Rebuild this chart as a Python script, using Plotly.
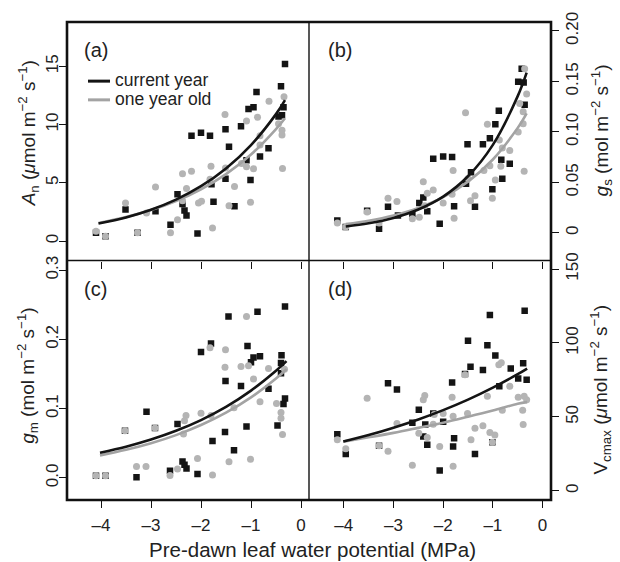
import plotly.graph_objects as go

# ---------------- data ----------------
# Panel (a): A_n
a_cur_x = [-0.32, -0.40, -0.89, -0.95, -1.05, -0.35, -0.45, -0.38, -1.20, -1.51, -2.19, -2.00, -1.82,
           -1.44, -0.65, -0.82, -1.09, -1.01, -1.51, -1.79, -2.47, -2.37, -2.33, -2.29, -1.75, -1.33,
           -2.91, -3.51, -2.61, -2.07, -4.10, -3.27, -3.91]
a_cur_y = [15.2, 13.3, 12.8, 11.5, 11.35, 11.5, 10.7, 10.8, 9.86, 9.6, 9.04, 9.3, 9.04,
           8.1, 7.97, 7.26, 6.93, 5.24, 5.35, 4.87, 4.03, 3.18, 2.62, 2.2, 3.38, 2.99,
           2.57, 2.7, 1.41, 0.65, 0.71, 0.71, 0.42]
a_old_x = [-0.34, -0.64, -1.52, -1.09, -0.87, -0.45, -0.38, -0.38, -0.82, -0.82, -1.19, -1.09, -0.95,
           -0.37, -1.51, -1.80, -2.19, -2.37, -1.82, -1.33, -2.29, -2.91, -2.37, -2.05, -1.99, -1.44,
           -1.01, -3.51, -3.09, -2.47, -2.61, -1.77, -4.10, -3.91, -3.27]
a_old_y = [12.4, 12.0, 10.87, 10.3, 10.64, 10.08, 9.52, 9.1, 9.04, 8.25, 6.65, 6.37, 6.2,
           6.22, 6.28, 6.42, 6.0, 5.78, 5.3, 4.68, 4.51, 4.65, 3.46, 3.27, 3.41, 3.04,
           3.33, 3.27, 2.42, 1.83, 0.71, 1.13, 0.85, 0.42, 0.71]
a_fit_x = [-4.05, -3.5, -3.0, -2.5, -2.0, -1.5, -1.0, -0.5, -0.32]
a_fit_cur = [1.5, 2.03, 2.69, 3.56, 4.71, 6.23, 8.24, 10.9, 12.1]
a_fit_old = [1.55, 2.06, 2.66, 3.44, 4.45, 5.75, 7.43, 9.62, 10.55]

# Panel (b): g_s
b_cur_x = [-0.42, -0.49, -0.38, -0.36, -0.88, -0.95, -1.06, -1.20, -1.51, -2.20, -2.00, -1.82, -0.83,
           -0.66, -1.44, -0.81, -1.54, -1.01, -3.11, -2.40, -2.48, -2.32, -2.62, -2.91, -1.78, -1.36,
           -3.53, -2.07, -3.29, -4.13, -3.96]
b_cur_y = [0.1625, 0.1496, 0.149, 0.127, 0.121, 0.1076, 0.0937, 0.0878, 0.0878, 0.0735, 0.0757, 0.0751, 0.0725,
           0.0686, 0.0601, 0.0536, 0.0488, 0.0432, 0.026, 0.0351, 0.0296, 0.0215, 0.0188, 0.0172, 0.0263, 0.026,
           0.022, 0.0091, 0.0042, 0.0123, 0.0058]
b_old_x = [-0.36, -0.32, -0.46, -0.39, -0.39, -0.49, -1.55, -1.11, -0.87, -0.81, -0.66, -1.06, -1.18,
           -0.84, -0.37, -1.80, -0.95, -1.50, -2.40, -2.20, -2.32, -1.36, -1.45, -1.01, -1.82, -3.11,
           -2.93, -2.00, -2.37, -3.53, -2.48, -2.62, -1.78, -3.29, -4.13, -3.96]
b_old_y = [0.1625, 0.1375, 0.128, 0.120, 0.108, 0.100, 0.119, 0.1076, 0.092, 0.084, 0.0816, 0.0666, 0.0618,
           0.066, 0.0611, 0.0618, 0.0523, 0.054, 0.0507, 0.0425, 0.0393, 0.0367, 0.0318, 0.0344, 0.0383, 0.0344,
           0.0312, 0.0296, 0.027, 0.0208, 0.0156, 0.014, 0.0146, 0.0098, 0.0098, 0.0058]
b_fit_x = [-3.96, -3.5, -3.0, -2.5, -2.0, -1.5, -1.0, -0.5, -0.32]
b_fit_cur = [0.0064, 0.0096, 0.0149, 0.0232, 0.036, 0.0561, 0.0872, 0.1354, 0.1587]
b_fit_old = [0.0088, 0.0121, 0.0173, 0.0248, 0.0355, 0.0508, 0.0727, 0.104, 0.1184]

# Panel (c): g_m
c_cur_x = [-0.32, -1.45, -0.87, -1.80, -2.00, -1.07, -0.95, -0.82, -1.00, -0.39, -0.40, -0.40, -1.51,
           -1.20, -0.65, -0.32, -0.35, -3.09, -2.47, -0.47, -1.09, -1.52, -1.77, -1.34, -2.37, -2.33,
           -2.29, -2.62, -2.07, -3.29, -4.10, -3.91, -3.52, -2.92]
c_cur_y = [0.2475, 0.2333, 0.240, 0.1943, 0.182, 0.1906, 0.174, 0.1758, 0.1669, 0.1772, 0.1659, 0.1512, 0.1398,
           0.1327, 0.1289, 0.1147, 0.1067, 0.0957, 0.0777, 0.0758, 0.0744, 0.0663, 0.0531, 0.0398, 0.0236, 0.0189,
           0.0137, 0.0104, 0.0057, 0.0009, 0.003, 0.003, 0.068, 0.072]
c_old_x = [-1.09, -1.82, -1.51, -1.52, -1.20, -1.05, -0.65, -0.33, -0.95, -0.82, -0.49, -0.40, -0.40,
           -0.37, -1.34, -1.80, -2.00, -2.30, -2.33, -2.35, -3.52, -2.92, -2.07, -1.44, -1.01, -2.47,
           -3.29, -3.10, -2.62, -1.77, -4.10, -3.91]
c_old_y = [0.2333, 0.188, 0.185, 0.160, 0.161, 0.162, 0.158, 0.157, 0.143, 0.110, 0.1076, 0.0943, 0.0862,
           0.0626, 0.1014, 0.090, 0.0933, 0.090, 0.0825, 0.0635, 0.068, 0.072, 0.0279, 0.0232, 0.027, 0.0128,
           0.0165, 0.0165, 0.0033, 0.0043, 0.003, 0.003]
c_fit_x = [-4.02, -3.5, -3.0, -2.5, -2.0, -1.5, -1.0, -0.5, -0.29]
c_fit_cur = [0.0364, 0.0451, 0.0554, 0.068, 0.0835, 0.1025, 0.126, 0.1547, 0.1686]
c_fit_old = [0.0325, 0.0405, 0.050, 0.0618, 0.0763, 0.0942, 0.1163, 0.1436, 0.157]

# Panel (d): V_cmax
d_cur_x = [-0.36, -1.06, -1.50, -1.11, -0.95, -0.39, -1.45, -1.20, -0.64, -0.49, -0.32, -0.87, -3.11,
           -2.93, -1.82, -2.49, -2.20, -2.62, -2.36, -2.00, -2.40, -2.32, -1.78, -1.80, -1.36, -2.07,
           -4.13, -3.96, -3.29, -1.01, -1.56]
d_cur_y = [121.8, 118.9, 101.6, 98.5, 91.6, 86.3, 84.0, 81.8, 82.7, 76.0, 75.1, 70.7, 72.7,
           68.5, 73.3, 54.9, 52.3, 46.0, 44.9, 46.7, 36.7, 31.1, 35.6, 30.0, 24.9, 13.8,
           38.3, 24.9, 30.5, 32.9, 79.0]
d_old_x = [-3.53, -2.93, -3.11, -4.13, -3.96, -2.62, -2.37, -2.40, -2.49, -2.32, -2.18, -2.00, -2.20,
           -2.07, -1.80, -1.82, -1.80, -1.51, -1.56, -1.44, -1.36, -1.20, -1.11, -0.83, -0.88, -0.66,
           -0.81, -1.06, -0.96, -1.01, -0.49, -0.32, -0.40, -0.39, -0.37, -3.29]
d_old_y = [62.7, 45.6, 26.7, 34.5, 28.5, 17.3, 64.5, 61.6, 38.9, 36.0, 51.6, 52.3, 45.1,
           30.0, 16.7, 63.3, 50.5, 52.3, 78.5, 34.5, 42.3, 44.0, 64.0, 86.7, 85.3, 70.7,
           54.5, 39.4, 37.8, 32.9, 63.3, 61.6, 54.5, 44.9, 64.0, 30.5]
d_fit_x = [-4.01, -3.5, -3.0, -2.5, -2.0, -1.5, -1.0, -0.5, -0.31]
d_fit_cur = [33.3, 37.7, 42.7, 48.3, 54.6, 61.7, 69.8, 78.9, 82.7]
d_fit_old = [33.3, 36.2, 39.2, 42.6, 46.1, 50.1, 54.3, 58.9, 60.0]

x_ticks = [-4, -3, -2, -1, 0]
x_ticklabels = ["\u20134", "\u20133", "\u20132", "\u20131", "0"]
a_ticks, a_labels = [0, 5, 10, 15], ["0", "5", "10", "15"]
b_ticks, b_labels = [0, 0.05, 0.10, 0.15, 0.20], ["0", "0.05", "0.10", "0.15", "0.20"]
c_ticks, c_labels = [0, 0.1, 0.2, 0.3], ["0.0", "0.1", "0.2", "0.3"]
d_ticks, d_labels = [0, 50, 100, 150], ["0", "50", "100", "150"]

series_names = ["current year", "one year old"]
panel_labels = ["(a)", "(b)", "(c)", "(d)"]

# ---------------- styling / layout ----------------
W, H = 620, 562
L, R, T, B = 67, 551, 15, 500
MIDX, MIDY = 309, 257
FONT = "Liberation Sans, Arial, Helvetica, sans-serif"
BLACK = "#141414"
GREY_M = "#b4b4b4"
GREY_L = "#a3a3a3"


def px(x):
    return (x - L) / (R - L)


def py(y):
    return (B - y) / (B - T)


fig = go.Figure()

panels = [
    ("x", "y", a_cur_x, a_cur_y, a_old_x, a_old_y, a_fit_x, a_fit_cur, a_fit_old),
    ("x2", "y2", b_cur_x, b_cur_y, b_old_x, b_old_y, b_fit_x, b_fit_cur, b_fit_old),
    ("x3", "y3", c_cur_x, c_cur_y, c_old_x, c_old_y, c_fit_x, c_fit_cur, c_fit_old),
    ("x4", "y4", d_cur_x, d_cur_y, d_old_x, d_old_y, d_fit_x, d_fit_cur, d_fit_old),
]
for xa, ya, cx, cy, ox, oy, fx, fc, fo in panels:
    fig.add_trace(go.Scatter(x=cx, y=cy, mode="markers", xaxis=xa, yaxis=ya, showlegend=False,
                             marker=dict(symbol="square", size=6.5, color=BLACK, line=dict(width=0)),
                             name=series_names[0]))
    fig.add_trace(go.Scatter(x=ox, y=oy, mode="markers", xaxis=xa, yaxis=ya, showlegend=False,
                             marker=dict(symbol="circle", size=7, color=GREY_M, line=dict(width=0)),
                             name=series_names[1]))
    fig.add_trace(go.Scatter(x=fx, y=fo, mode="lines", xaxis=xa, yaxis=ya, showlegend=False,
                             line=dict(color=GREY_L, width=2.6, shape="spline"), hoverinfo="skip"))
    fig.add_trace(go.Scatter(x=fx, y=fc, mode="lines", xaxis=xa, yaxis=ya, showlegend=False,
                             line=dict(color=BLACK, width=2.6, shape="spline"), hoverinfo="skip"))

# empty traces so the label-only overlay axes are drawn
for xa, ya in [("x", "y5"), ("x2", "y6"), ("x3", "y7"), ("x4", "y8")]:
    fig.add_trace(go.Scatter(x=[], y=[], mode="markers", xaxis=xa, yaxis=ya, showlegend=False,
                             hoverinfo="skip"))

xl = [px(L), px(MIDX)]
xr = [px(MIDX), px(R)]
yt = [py(MIDY), py(T)]
yb = [py(B), py(MIDY)]

tickfont = dict(family=FONT, size=17, color="#222222")
common_x = dict(tickvals=x_ticks, ticktext=x_ticklabels, ticks="outside", ticklen=7, tickwidth=1.3,
                tickcolor="#111111", showgrid=False, zeroline=False, showline=False, tickfont=tickfont,
                ticklabelstandoff=3)
common_y = dict(ticks="outside", ticklen=7, tickwidth=1.3, tickcolor="#111111", showgrid=False,
                zeroline=False, showline=False, showticklabels=False)
label_y = dict(ticks="outside", ticklen=7, tickwidth=1, tickcolor="rgba(0,0,0,0)", showgrid=False,
               zeroline=False, showline=False, tickfont=tickfont, tickangle=-90, anchor="free")

rng_a, rng_b, rng_c, rng_d = [-1.67, 18.81], [-0.0273, 0.2088], [-0.032, 0.3141], [-6.2, 155.8]

fig.update_layout(
    width=W, height=H,
    margin=dict(l=L, r=W - R, t=T, b=H - B),
    paper_bgcolor="white", plot_bgcolor="white",
    font=dict(family=FONT, color="#222222"),
    showlegend=False,
    xaxis=dict(domain=xl, range=[-4.68, 0.16], anchor="y", showticklabels=False, **common_x),
    yaxis=dict(domain=yt, range=rng_a, anchor="x", side="left", tickvals=a_ticks, **common_y),
    xaxis2=dict(domain=xr, range=[-4.70, 0.17], anchor="y2", showticklabels=False, **common_x),
    yaxis2=dict(domain=yt, range=rng_b, anchor="x2", side="right", tickvals=b_ticks, **common_y),
    xaxis3=dict(domain=xl, range=[-4.68, 0.16], anchor="y3", **common_x),
    yaxis3=dict(domain=yb, range=rng_c, anchor="x3", side="left", tickvals=c_ticks, **common_y),
    xaxis4=dict(domain=xr, range=[-4.70, 0.17], anchor="y4", **common_x),
    yaxis4=dict(domain=yb, range=rng_d, anchor="x4", side="right", tickvals=d_ticks, **common_y),
    # label-only axes, overlaid so the rotated tick labels sit as close as in the reference
    yaxis5=dict(overlaying="y", range=rng_a, side="left", position=px(72),
                tickvals=a_ticks, ticktext=a_labels, **label_y),
    yaxis6=dict(overlaying="y2", range=rng_b, side="right", position=px(549.5),
                tickvals=b_ticks, ticktext=b_labels, **label_y),
    yaxis7=dict(overlaying="y3", range=rng_c, side="left", position=px(72),
                tickvals=c_ticks, ticktext=c_labels, **label_y),
    yaxis8=dict(overlaying="y4", range=rng_d, side="right", position=px(549.5),
                tickvals=d_ticks, ticktext=d_labels, **label_y),
)

shapes = [
    dict(type="rect", xref="paper", yref="paper", x0=0, x1=1, y0=0, y1=1,
         line=dict(color="#111111", width=2.6), layer="above"),
    dict(type="line", xref="paper", yref="paper", x0=px(MIDX), x1=px(MIDX), y0=0, y1=1,
         line=dict(color="#111111", width=1.4), layer="above"),
    dict(type="line", xref="paper", yref="paper", x0=0, x1=1, y0=py(MIDY), y1=py(MIDY),
         line=dict(color="#111111", width=1.4), layer="above"),
    # legend keys
    dict(type="line", xref="paper", yref="paper", x0=px(88), x1=px(110), y0=py(75), y1=py(75),
         line=dict(color=BLACK, width=3)),
    dict(type="line", xref="paper", yref="paper", x0=px(88), x1=px(110), y0=py(94), y1=py(94),
         line=dict(color=GREY_L, width=3)),
]
fig.update_layout(shapes=shapes)

ann = []
for lab, (x0, y0) in zip(panel_labels, [(82, 43), (326, 43), (82, 286), (326, 286)]):
    ann.append(dict(text=lab, x=px(x0), y=py(y0), xref="paper", yref="paper", xanchor="left",
                    yanchor="middle", showarrow=False, font=dict(family=FONT, size=20, color="#222222")))
for name, y0 in zip(series_names, [74, 93]):
    ann.append(dict(text=name, x=px(113), y=py(y0), xref="paper", yref="paper", xanchor="left",
                    yanchor="middle", showarrow=False, font=dict(family=FONT, size=17.5, color="#222222")))

title_font = dict(family=FONT, size=19, color="#222222")
ann.append(dict(text="Pre-dawn leaf water potential (MPa)", x=px(312), y=py(550), xref="paper", yref="paper",
                xanchor="center", yanchor="middle", showarrow=False, font=dict(family=FONT, size=20.5, color="#222222")))
ann.append(dict(text="<i>A</i><sub>n</sub> (<i>\u03bc</i>mol m<sup>\u22122</sup> s<sup>\u22121</sup>)",
                x=px(28), y=py(128), xref="paper", yref="paper", xanchor="center", yanchor="middle",
                textangle=-90, showarrow=False, font=title_font))
ann.append(dict(text="<i>g</i><sub>m</sub> (mol m<sup>\u22122</sup> s<sup>\u22121</sup>)",
                x=px(28), y=py(374), xref="paper", yref="paper", xanchor="center", yanchor="middle",
                textangle=-90, showarrow=False, font=title_font))
ann.append(dict(text="<i>g</i><sub>s</sub> (mol m<sup>\u22122</sup> s<sup>\u22121</sup>)",
                x=px(601), y=py(125), xref="paper", yref="paper", xanchor="center", yanchor="middle",
                textangle=-90, showarrow=False, font=title_font))
ann.append(dict(text="V<sub>cmax</sub> (<i>\u03bc</i>mol m<sup>\u22122</sup> s<sup>\u22121</sup>)",
                x=px(601), y=py(388), xref="paper", yref="paper", xanchor="center", yanchor="middle",
                textangle=-90, showarrow=False, font=title_font))
fig.update_layout(annotations=ann)

fig.write_html("out.html")
